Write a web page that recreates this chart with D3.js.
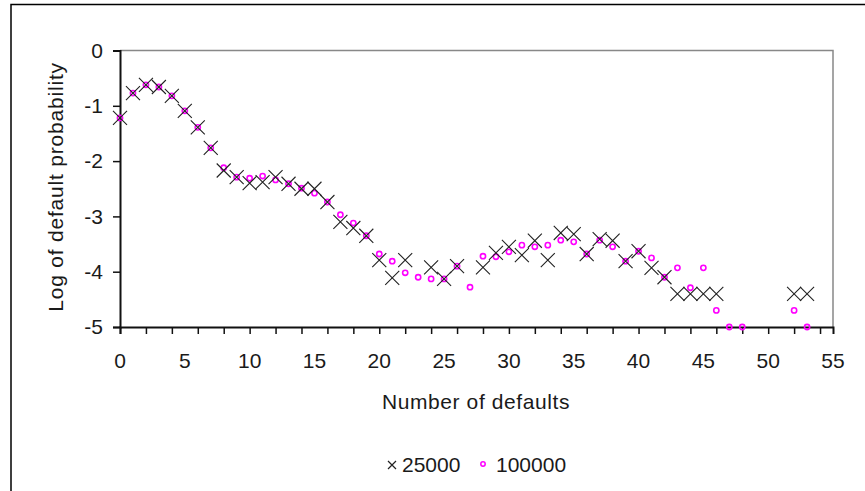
<!DOCTYPE html>
<html>
<head>
<meta charset="utf-8">
<script src="https://cdn.jsdelivr.net/npm/d3@7"></script>
<style>
    html, body { margin: 0; padding: 0; background: #fff; }
    svg { display: block; }
    text { font-family: "Liberation Sans", Arial, sans-serif; fill: #1a1a1a; }
</style>
</head>
<body>
<svg id="chart" width="865" height="491"></svg>
<script>
// number of defaults (x)
const n_defaults = [
    0, 1, 2, 3, 4, 5, 6, 7, 8, 9,
    10, 11, 12, 13, 14, 15, 16, 17, 18, 19,
    20, 21, 22, 23, 24, 25, 26, 27, 28, 29,
    30, 31, 32, 33, 34, 35, 36, 37, 38, 39,
    40, 41, 42, 43, 44, 45, 46, 47, 48, 49,
    50, 51, 52, 53,
];

// log of default probability, 25000 runs (null = no point)
const log_p_25000 = [
    -1.22, -0.77, -0.62, -0.66, -0.82, -1.09, -1.39, -1.76, -2.17, -2.29,
    -2.40, -2.38, -2.29, -2.41, -2.50, -2.50, -2.74, -3.10, -3.21, -3.35,
    -3.79, -4.11, -3.79, null, -3.92, -4.13, -3.90, null, -3.92, -3.66,
    -3.55, -3.70, -3.44, -3.79, -3.30, -3.32, -3.68, -3.41, -3.44, -3.81,
    -3.63, -3.93, -4.10, -4.40, -4.40, -4.40, -4.40, null, null, null,
    null, null, -4.40, -4.40,
];

// log of default probability, 100000 runs
const log_p_100000 = [
    -1.22, -0.77, -0.62, -0.66, -0.82, -1.09, -1.39, -1.76, -2.12, -2.29,
    -2.31, -2.27, -2.34, -2.41, -2.49, -2.58, -2.74, -2.97, -3.12, -3.35,
    -3.68, -3.81, -4.02, -4.10, -4.13, -4.13, -3.90, -4.28, -3.72, -3.73,
    -3.64, -3.52, -3.55, -3.52, -3.43, -3.46, -3.68, -3.43, -3.55, -3.81,
    -3.63, -3.75, -4.10, -3.93, -4.29, -3.93, -4.70, -5.00, -5.00, null,
    null, null, -4.70, -5.00,
];

const x_ticks = [0, 2, 4, 6, 8, 10, 12, 14, 16, 18, 20, 22, 24, 26, 28, 30, 32, 34, 36, 38, 40, 42, 44, 46, 48, 50, 52, 54];
const x_labels = [0, 5, 10, 15, 20, 25, 30, 35, 40, 45, 50, 55];
const y_ticks = [0, -1, -2, -3, -4, -5];

const plot = {left: 120, right: 833, top: 50.5, bottom: 327};


function draw_chart() {
    const svg = d3.select('#chart');
    const x = d3.scaleLinear().domain([0, 55]).range([plot.left, plot.right]);
    const y = d3.scaleLinear().domain([-5, 0]).range([plot.bottom, plot.top]);

    // outer chart border (cropped on right and bottom)
    svg.append('path')
        .attr('d', 'M11,900 L11,4.5 L900,4.5')
        .attr('fill', 'none')
        .attr('stroke', '#000')
        .attr('stroke-width', 1.5);

    // plot frame, top and right
    svg.append('path')
        .attr('d', `M${plot.left},${plot.top} L${plot.right},${plot.top} L${plot.right},${plot.bottom}`)
        .attr('fill', 'none')
        .attr('stroke', '#888')
        .attr('stroke-width', 1.5);

    // y axis
    const y_axis = svg.append('g')
        .attr('transform', `translate(${plot.left},0)`)
        .call(d3.axisLeft(y).tickValues(y_ticks).tickSize(7).tickPadding(10).tickFormat(d3.format('d')));
    y_axis.select('.domain').attr('stroke', '#111').attr('stroke-width', 2);
    y_axis.selectAll('.tick line').attr('stroke', '#111').attr('stroke-width', 1.5);
    y_axis.selectAll('.tick text')
        .attr('font-size', 21)
        .attr('font-family', '"Liberation Sans", Arial, sans-serif')
        .attr('fill', '#1a1a1a')
        .text(d => d === 0 ? '0' : `-${Math.abs(d)}`);

    // x axis: ticks every 2, labels every 5
    const x_axis = svg.append('g')
        .attr('transform', `translate(0,${plot.bottom})`)
        .call(d3.axisBottom(x).tickValues(x_ticks).tickSize(7).tickFormat(''));
    x_axis.select('.domain').attr('stroke', '#111').attr('stroke-width', 2);
    x_axis.selectAll('.tick line').attr('stroke', '#111').attr('stroke-width', 1.5);

    svg.append('g')
        .selectAll('text')
        .data(x_labels)
        .join('text')
        .attr('x', d => x(d))
        .attr('y', 368)
        .attr('text-anchor', 'middle')
        .attr('font-size', 21)
        .text(d => d);

    // axis titles
    svg.append('text')
        .attr('x', 476)
        .attr('y', 409)
        .attr('text-anchor', 'middle')
        .attr('font-size', 21)
        .attr('letter-spacing', 0.6)
        .text('Number of defaults');

    svg.append('text')
        .attr('transform', 'translate(63,187) rotate(-90)')
        .attr('text-anchor', 'middle')
        .attr('font-size', 21)
        .attr('letter-spacing', 0.8)
        .text('Log of default probability');

    // series 100000: hollow magenta circles
    const pts_100000 = n_defaults
        .map((n, i) => [n, log_p_100000[i]])
        .filter(d => d[1] !== null);
    svg.append('g')
        .selectAll('circle')
        .data(pts_100000)
        .join('circle')
        .attr('cx', d => x(d[0]))
        .attr('cy', d => y(d[1]))
        .attr('r', 2.6)
        .attr('fill', 'none')
        .attr('stroke', '#ff00ff')
        .attr('stroke-width', 1.6);

    // series 25000: crosses
    const pts_25000 = n_defaults
        .map((n, i) => [n, log_p_25000[i]])
        .filter(d => d[1] !== null);
    const cross = d3.symbol().type(d3.symbolTimes).size(130);
    svg.append('g')
        .selectAll('path')
        .data(pts_25000)
        .join('path')
        .attr('transform', d => `translate(${x(d[0])},${y(d[1])})`)
        .attr('d', cross)
        .attr('fill', 'none')
        .attr('stroke', '#222')
        .attr('stroke-width', 1.1);

    draw_legend(svg);
}


function draw_legend(svg) {
    const legend = svg.append('g');
    legend.append('path')
        .attr('d', 'M388,461 L396,469 M396,461 L388,469')
        .attr('stroke', '#222')
        .attr('stroke-width', 1.2);
    legend.append('text')
        .attr('x', 402)
        .attr('y', 472)
        .attr('font-size', 21)
        .text('25000');
    legend.append('circle')
        .attr('cx', 483)
        .attr('cy', 464)
        .attr('r', 2.2)
        .attr('fill', 'none')
        .attr('stroke', '#ff00ff')
        .attr('stroke-width', 1.5);
    legend.append('text')
        .attr('x', 496)
        .attr('y', 472)
        .attr('font-size', 21)
        .text('100000');
}


draw_chart();
</script>
</body>
</html>
